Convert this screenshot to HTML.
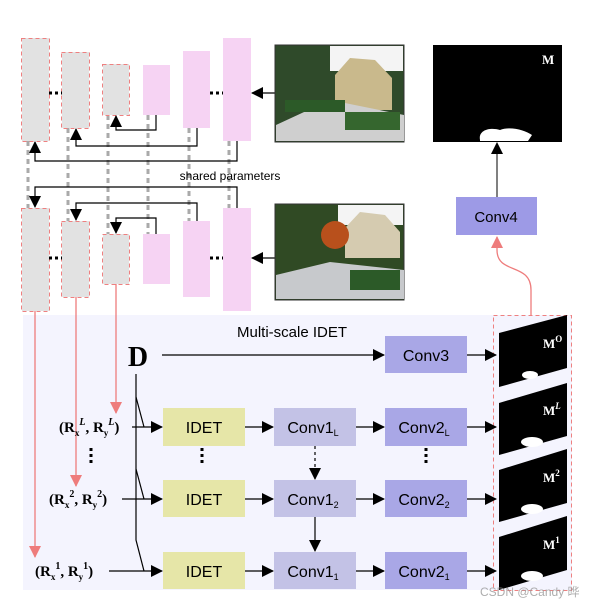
<!DOCTYPE html>
<html><head><meta charset="utf-8"><style>
body{margin:0;background:#fff}
svg{display:block}
text{font-family:"Liberation Sans",sans-serif}
.s,.s text,text.s{font-family:"Liberation Serif",serif;font-weight:bold}
</style></head><body>
<svg width="608" height="609" viewBox="0 0 608 609" xmlns="http://www.w3.org/2000/svg">
<defs>
<marker id="b" markerWidth="12" markerHeight="12" refX="11" refY="6" orient="auto" markerUnits="userSpaceOnUse"><path d="M0,0 L12,6 L0,12z" fill="#000"/></marker>
<marker id="r" markerWidth="12" markerHeight="12" refX="11" refY="6" orient="auto" markerUnits="userSpaceOnUse"><path d="M0,0 L12,6 L0,12z" fill="#ee7c7c"/></marker>
</defs>
<rect x="23" y="315" width="549" height="275" fill="#f4f4fe"/>
<g stroke="#aaa" stroke-width="3" stroke-dasharray="5,4">
<line x1="28" y1="141" x2="28" y2="208"/><line x1="68" y1="128" x2="68" y2="221"/>
<line x1="108" y1="115" x2="108" y2="234"/><line x1="148" y1="115" x2="148" y2="234"/>
<line x1="189" y1="128" x2="189" y2="221"/><line x1="229" y1="141" x2="229" y2="208"/>
</g>
<g fill="#e2e2e2"><rect x="22" y="38" width="27" height="103"/><rect x="62" y="52" width="27" height="76"/><rect x="103" y="64" width="26" height="51"/>
<rect x="22" y="208" width="27" height="103"/><rect x="62" y="221" width="27" height="76"/><rect x="103" y="234" width="26" height="50"/></g>
<g fill="#f6d3f3"><rect x="143" y="65" width="27" height="50"/><rect x="183" y="51" width="27" height="77"/><rect x="223" y="38" width="28" height="103"/>
<rect x="143" y="234" width="27" height="50"/><rect x="183" y="221" width="27" height="76"/><rect x="223" y="208" width="28" height="103"/></g>
<g fill="none" stroke="#ee8080" stroke-width="1" stroke-dasharray="4,3">
<rect x="21.5" y="38.5" width="28" height="103"/><rect x="61.5" y="52.5" width="28" height="76"/><rect x="102.5" y="64.5" width="27" height="51"/>
<rect x="21.5" y="208.5" width="28" height="103"/><rect x="61.5" y="221.5" width="28" height="76"/><rect x="102.5" y="234.5" width="27" height="50"/>
<rect x="493.5" y="315.5" width="78" height="275"/>
</g>
<g stroke="#000" stroke-width="3" stroke-dasharray="3,3"><line x1="49" y1="93" x2="62" y2="93"/><line x1="210" y1="93" x2="223" y2="93"/><line x1="49" y1="258" x2="62" y2="258"/><line x1="210" y1="258" x2="223" y2="258"/></g>
<g fill="none" stroke="#000" stroke-width="1.2">
<path d="M156,115 V130 H116 V116" marker-end="url(#b)"/>
<path d="M197,128 V146 H76 V129" marker-end="url(#b)"/>
<path d="M237,141 V161 H35 V142" marker-end="url(#b)"/>
<path d="M237,208 V187 H35 V207" marker-end="url(#b)"/>
<path d="M197,221 V203 H76 V220" marker-end="url(#b)"/>
<path d="M156,234 V218 H116 V233" marker-end="url(#b)"/>
<line x1="275" y1="93" x2="252" y2="93" marker-end="url(#b)"/>
<line x1="275" y1="258" x2="252" y2="258" marker-end="url(#b)"/>
</g>
<text x="230" y="180" font-size="12" text-anchor="middle">shared parameters</text>
<g>
<rect x="275" y="45" width="129" height="97" fill="#2f4a2a" stroke="#333"/>
<rect x="330" y="46" width="73" height="25" fill="#f4f4f4"/>
<polygon points="335,75 350,58 375,60 392,78 392,110 335,110" fill="#c9b98c"/>
<polygon points="276,125 330,100 404,115 404,141 276,141" fill="#cfcfcf"/>
<rect x="285" y="100" width="60" height="12" fill="#2c5a28"/>
<rect x="345" y="112" width="55" height="18" fill="#35662e"/>
<rect x="275" y="204" width="129" height="96" fill="#304a24" stroke="#333"/>
<rect x="338" y="205" width="65" height="20" fill="#f4f4f4"/>
<polygon points="345,228 360,212 385,215 400,232 400,258 345,258" fill="#d5cbb0"/>
<circle cx="335" cy="235" r="14" fill="#b8501c"/>
<polygon points="276,275 330,262 404,270 404,299 276,299" fill="#c7c9cc"/>
<rect x="350" y="270" width="50" height="20" fill="#2c5a28"/>
</g>
<rect x="433" y="45" width="129" height="97" fill="#000"/>
<path d="M480,140 C478,130 490,127 500,130 C510,126 525,130 532,135 L528,141 H480z" fill="#fff"/>
<text x="542" y="64" class="s" font-size="13" fill="#fff">M</text>
<line x1="497" y1="197" x2="497" y2="143" stroke="#000" marker-end="url(#b)"/>
<rect x="456" y="197" width="81" height="38" fill="#9d9ae6"/>
<text x="496" y="222" font-size="15" text-anchor="middle">Conv4</text>
<path d="M531,315 V290 C531,262 497,275 497,250 V237" fill="none" stroke="#ee7c7c" stroke-width="1.3" marker-end="url(#r)"/>
<g stroke="#ee7c7c" stroke-width="1.3" fill="none">
<line x1="35" y1="311" x2="35" y2="557" marker-end="url(#r)"/>
<line x1="76" y1="297" x2="76" y2="486" marker-end="url(#r)"/>
<line x1="116" y1="284" x2="116" y2="413" marker-end="url(#r)"/>
</g>
<text x="292" y="337" font-size="15" text-anchor="middle">Multi-scale IDET</text>
<text x="138" y="366" class="s" font-size="28" text-anchor="middle">D</text>
<g stroke="#000" stroke-width="1.2" fill="none">
<line x1="162" y1="355" x2="384" y2="355" marker-end="url(#b)"/>
<path d="M136,374 V540 L144,571"/>
<path d="M136,397 L144,427"/><path d="M136,469 L144,499"/>
<line x1="132" y1="427" x2="162" y2="427" marker-end="url(#b)"/>
<line x1="122" y1="499" x2="162" y2="499" marker-end="url(#b)"/>
<line x1="109" y1="571" x2="162" y2="571" marker-end="url(#b)"/>
<line x1="245" y1="427" x2="273" y2="427" marker-end="url(#b)"/>
<line x1="245" y1="499" x2="273" y2="499" marker-end="url(#b)"/>
<line x1="245" y1="571" x2="273" y2="571" marker-end="url(#b)"/>
<line x1="356" y1="427" x2="384" y2="427" marker-end="url(#b)"/>
<line x1="356" y1="499" x2="384" y2="499" marker-end="url(#b)"/>
<line x1="356" y1="571" x2="384" y2="571" marker-end="url(#b)"/>
<line x1="467" y1="355" x2="496" y2="355" marker-end="url(#b)"/>
<line x1="467" y1="427" x2="496" y2="427" marker-end="url(#b)"/>
<line x1="467" y1="499" x2="496" y2="499" marker-end="url(#b)"/>
<line x1="467" y1="571" x2="496" y2="571" marker-end="url(#b)"/>
<line x1="315" y1="446" x2="315" y2="479" stroke-dasharray="3,3" marker-end="url(#b)"/>
<line x1="315" y1="517" x2="315" y2="551" marker-end="url(#b)"/>
</g>
<g stroke="#000" stroke-width="3" stroke-dasharray="3,3"><line x1="91" y1="448" x2="91" y2="463"/><line x1="202" y1="448" x2="202" y2="463"/><line x1="426" y1="448" x2="426" y2="463"/></g>
<g fill="#e6e6a8"><rect x="163" y="408" width="82" height="38"/><rect x="163" y="480" width="82" height="37"/><rect x="163" y="552" width="82" height="37"/></g>
<g fill="#c3c2e6"><rect x="274" y="408" width="82" height="38"/><rect x="274" y="480" width="82" height="37"/><rect x="274" y="552" width="82" height="37"/></g>
<g fill="#a9a7e6"><rect x="385" y="336" width="82" height="37"/><rect x="385" y="408" width="82" height="38"/><rect x="385" y="480" width="82" height="37"/><rect x="385" y="552" width="82" height="37"/></g>
<g font-size="16" text-anchor="middle">
<text x="204" y="433">IDET</text><text x="204" y="505">IDET</text><text x="204" y="577">IDET</text>
<text x="426" y="361">Conv3</text>
<text x="313" y="433">Conv1<tspan font-size="9" dy="3">L</tspan></text>
<text x="313" y="505">Conv1<tspan font-size="9" dy="3">2</tspan></text>
<text x="313" y="577">Conv1<tspan font-size="9" dy="3">1</tspan></text>
<text x="424" y="433">Conv2<tspan font-size="9" dy="3">L</tspan></text>
<text x="424" y="505">Conv2<tspan font-size="9" dy="3">2</tspan></text>
<text x="424" y="577">Conv2<tspan font-size="9" dy="3">1</tspan></text>
</g>
<g font-size="15">
<text class="s" x="59" y="432">(R<tspan font-size="9" dy="4">x</tspan><tspan font-size="10" dy="-11" font-style="italic">L</tspan><tspan dy="7">, R</tspan><tspan font-size="9" dy="4">y</tspan><tspan font-size="10" dy="-11" font-style="italic">L</tspan><tspan dy="7">)</tspan></text>
<text class="s" x="49" y="504">(R<tspan font-size="9" dy="4">x</tspan><tspan font-size="10" dy="-11">2</tspan><tspan dy="7">, R</tspan><tspan font-size="9" dy="4">y</tspan><tspan font-size="10" dy="-11">2</tspan><tspan dy="7">)</tspan></text>
<text class="s" x="35" y="576">(R<tspan font-size="9" dy="4">x</tspan><tspan font-size="10" dy="-11">1</tspan><tspan dy="7">, R</tspan><tspan font-size="9" dy="4">y</tspan><tspan font-size="10" dy="-11">1</tspan><tspan dy="7">)</tspan></text>
</g>
<g fill="#000">
<polygon points="499,333 567,315 567,368 499,387"/>
<polygon points="499,403 567,383 567,436 499,455"/>
<polygon points="499,470 567,449 567,503 499,522"/>
<polygon points="499,537 567,516 567,570 499,590"/>
</g>
<g fill="#fff">
<ellipse cx="530" cy="375" rx="8" ry="4"/><ellipse cx="532" cy="442" rx="11" ry="5"/><ellipse cx="532" cy="509" rx="11" ry="5"/><ellipse cx="532" cy="576" rx="11" ry="5"/>
</g>
<g font-size="13" fill="#fff">
<text class="s" x="543" y="348">M<tspan font-size="9" dy="-6">O</tspan></text>
<text class="s" x="543" y="415">M<tspan font-size="9" dy="-6" font-style="italic">L</tspan></text>
<text class="s" x="543" y="482">M<tspan font-size="9" dy="-6">2</tspan></text>
<text class="s" x="543" y="549">M<tspan font-size="9" dy="-6">1</tspan></text>
</g>
<text x="480" y="596" font-size="12" fill="#999" opacity="0.8" style="font-family:'Liberation Sans','Noto Sans CJK SC',sans-serif">CSDN @Candy 晔</text>
</svg>
</body></html>
